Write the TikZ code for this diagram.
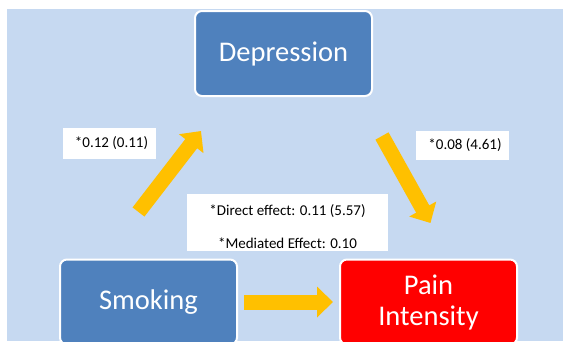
\documentclass[tikz,border=0pt]{standalone}
\usepackage{fontspec}
\setmainfont{Carlito}
\usetikzlibrary{arrows.meta}
\definecolor{bgblue}{HTML}{C6D9F1}
\definecolor{boxblue}{HTML}{4F81BD}
\definecolor{arrowgold}{HTML}{FFC000}
\definecolor{painred}{HTML}{FF0000}
\begin{document}
\begin{tikzpicture}[x=1pt,y=-1pt,
  box/.style={draw=white, line width=2pt, rounded corners=7pt, minimum width=177pt, minimum height=85pt, text=white, font=\fontsize{28.5}{31}\selectfont, align=center, inner sep=0pt},
  lbl/.style={fill=white, inner sep=0pt},
  lbltext/.style={font=\fontsize{15}{17}\selectfont, inner sep=0pt},
  bigarrow/.style={draw=arrowgold, line width=15pt, -{Triangle[width=30pt,length=16pt]}}]
\useasboundingbox (0,0) rectangle (563,341);
\fill[bgblue] (7,9) rectangle (563,341);
% boxes
\node[box, fill=boxblue] (dep) at (283.5,53.5) {Depression};
\node[box, fill=boxblue] (smk) at (148.5,302) {Smoking};
\node[box, fill=painred] (pain) at (428.5,302) {Pain\\Intensity};
% labels
\node[lbl, minimum width=93pt, minimum height=31pt] (l1) at (109.5,143.5) {};
\node[lbltext] (l1t) at (111.5,143.5) {*0.12 (0.11)};
\node[lbl, minimum width=93pt, minimum height=29pt] (l2) at (462.5,145.5) {};
\node[lbltext] (l2t) at (465,145.5) {*0.08 (4.61)};
\node[lbl, minimum width=201pt, minimum height=57pt] (mid) at (287.5,222.5) {};
\node[lbltext] (midt1) at (287.5,211) {*Direct effect: 0.11 (5.57)};
\node[lbltext] (midt2) at (287.5,243) {*Mediated Effect: 0.10};
% arrows
\coordinate (a1s) at (138.5,212);
\coordinate (a1e) at (201,131);
\coordinate (a2s) at (382,136);
\coordinate (a2e) at (430.5,223);
\coordinate (a3s) at (244,302);
\coordinate (a3e) at (333,302);
\draw[bigarrow] (a1s) -- (a1e);
\draw[bigarrow] (a2s) -- (a2e);
\draw[bigarrow] (a3s) -- (a3e);
\end{tikzpicture}
\end{document}
